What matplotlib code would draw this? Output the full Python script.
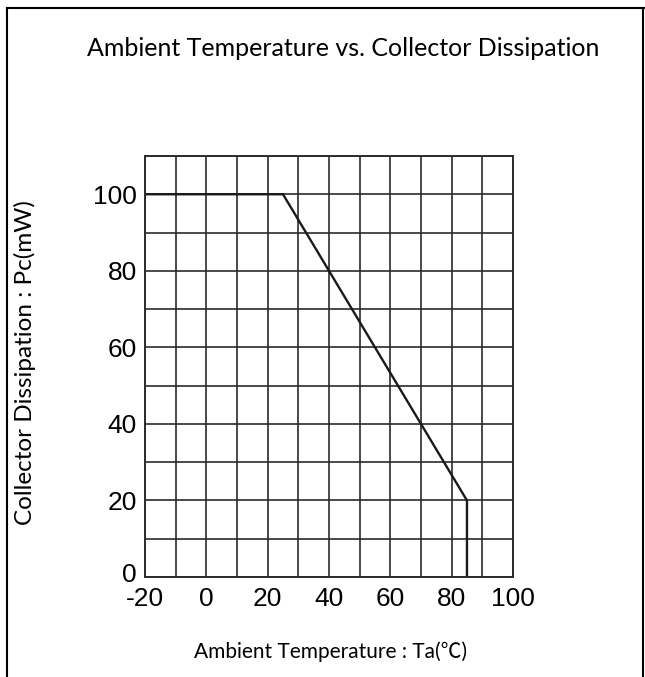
import matplotlib
matplotlib.use("Agg")
import matplotlib.pyplot as plt
import matplotlib.transforms as mtransforms
from matplotlib.lines import Line2D
import numpy as np

# derating curve: ambient temperature (C) vs collector dissipation (mW)
temp = [-20, 25, 85, 85]
power = [100, 100, 20, 0]

x_ticks = [-20, 0, 20, 40, 60, 80, 100]
y_ticks = [0, 20, 40, 60, 80, 100]

label_font = ["Lato", "Noto Sans CJK JP", "DejaVu Sans"]
tick_font = "Liberation Sans"
plt.rcParams["axes.unicode_minus"] = False

fig = plt.figure(figsize=(6.45, 6.77), dpi=100)
ax = fig.add_axes([0.2248, 0.1477, 0.5705, 0.6219])

grid_color = "#2b2b2b"
ax.set_xlim(-20, 100)
ax.set_ylim(0, 110)
ax.set_xticks(x_ticks)
ax.set_yticks(y_ticks)
ax.set_xticks(np.arange(-20, 101, 10), minor=True)
ax.set_yticks(np.arange(0, 111, 10), minor=True)
ax.grid(which="both", color=grid_color, linewidth=1.2)
ax.set_axisbelow(True)
ax.tick_params(which="both", length=0)
ax.tick_params(axis="x", pad=7)
ax.tick_params(axis="y", pad=6)
for lab in ax.get_xticklabels() + ax.get_yticklabels():
    lab.set_fontfamily(tick_font)
    lab.set_fontsize(19)
for s in ax.spines.values():
    s.set_color(grid_color)
    s.set_linewidth(1.4)

# the "0" on the y axis sits a little above the corner
lab0 = ax.get_yticklabels()[0]
lab0.set_transform(lab0.get_transform() +
                   mtransforms.ScaledTranslation(0, 3 / 72, fig.dpi_scale_trans))

ax.plot(temp, power, color="#1a1a1a", linewidth=1.7, solid_joinstyle="miter")

fig.text(0.039, 0.465, "Collector Dissipation : Pc(mW)", family=label_font,
         fontsize=17.5, rotation=90, ha="center", va="center")
fig.text(0.512, 0.037, "Ambient Temperature : Ta(℃)", family=label_font,
         fontsize=15, ha="center", va="center")
fig.text(0.532, 0.929, "Ambient Temperature vs. Collector Dissipation",
         family=label_font, fontsize=18, ha="center", va="center")

# outer frame (bottom edge is cut off in the original)
for xs, ys in [([7 / 645, 7 / 645], [0, 1 - 8 / 677]),
               ([7 / 645, 1], [1 - 8 / 677, 1 - 8 / 677]),
               ([643 / 645, 643 / 645], [0, 1 - 8 / 677])]:
    fig.add_artist(Line2D(xs, ys, color="black", linewidth=1.5))

fig.savefig("out.png", dpi=100)
